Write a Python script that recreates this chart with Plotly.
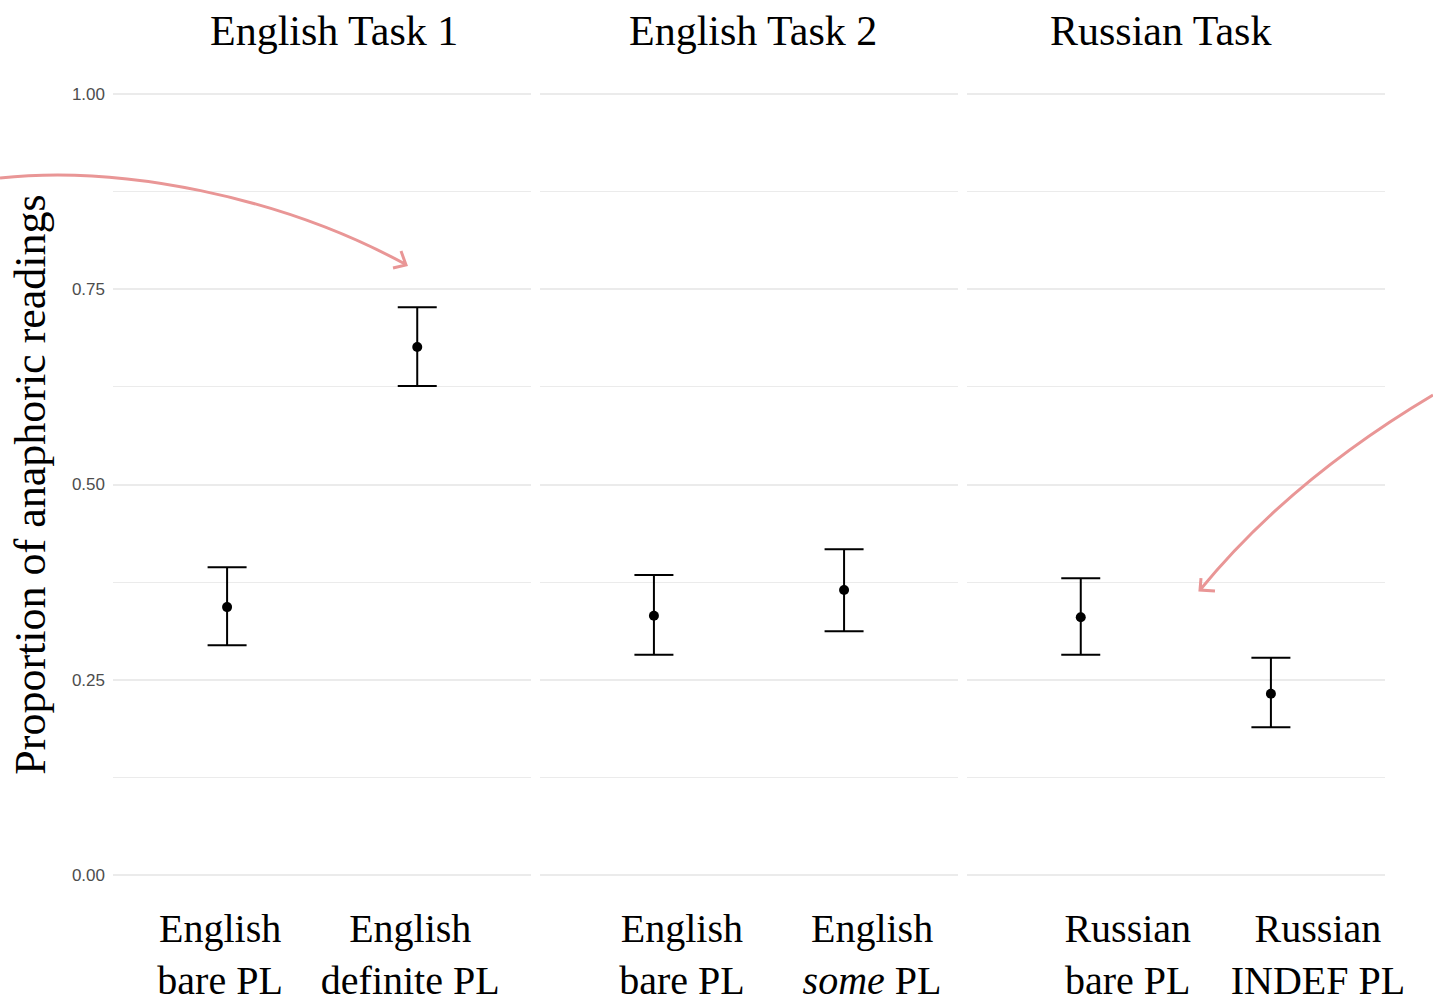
import plotly.graph_objects as go
from plotly.subplots import make_subplots

# Panel titles and category labels
panel_titles = ["English Task 1", "English Task 2", "Russian Task"]
categories = [
    ["English<br>bare PL", "English<br>definite PL"],
    ["English<br>bare PL", "English<br><i>some</i> PL"],
    ["Russian<br>bare PL", "Russian<br>INDEF PL"],
]

# Proportion of anaphoric readings with interval bounds
means = [[0.343, 0.676], [0.332, 0.365], [0.330, 0.232]]
lower = [[0.294, 0.626], [0.282, 0.312], [0.282, 0.189]]
upper = [[0.394, 0.727], [0.384, 0.417], [0.380, 0.278]]

y_ticks = [0.0, 0.25, 0.50, 0.75, 1.00]
y_tick_labels = ["0.00", "0.25", "0.50", "0.75", "1.00"]

W, H = 1433, 999
ML, MR, MT, MB = 113, 48, 55, 85
PW, PH = W - ML - MR, H - MT - MB

SERIF = "Liberation Serif, Times New Roman, serif"
SANS = "Liberation Sans, Arial, sans-serif"
GRID = "#EBEBEB"
PINK = "rgb(233,150,150)"

# horizontal nudges for the category labels and panel titles (px)
label_shift = [-7, 28, 47]
title_shift = [12, 4, -15]

fig = make_subplots(rows=1, cols=3, shared_yaxes=True,
                    horizontal_spacing=8.5 / PW,
                    subplot_titles=panel_titles)

for i in range(3):
    err_plus = [u - m for u, m in zip(upper[i], means[i])]
    err_minus = [m - l for m, l in zip(means[i], lower[i])]
    fig.add_trace(
        go.Scatter(
            x=categories[i], y=means[i], mode="markers",
            marker=dict(color="black", size=10),
            error_y=dict(type="data", symmetric=False, array=err_plus,
                         arrayminus=err_minus, color="black",
                         thickness=2, width=19.5),
            showlegend=False, hoverinfo="skip",
        ),
        row=1, col=i + 1,
    )
    fig.update_xaxes(
        type="category", range=[-0.6, 1.6], showgrid=False, zeroline=False,
        showline=False, ticks="", ticklabelstandoff=-13,
        ticklabelshift=label_shift[i],
        tickfont=dict(family=SERIF, size=40, color="black"),
        row=1, col=i + 1,
    )

fig.update_yaxes(
    range=[-0.05, 1.05], tickvals=y_ticks, ticktext=y_tick_labels,
    showgrid=True, gridcolor=GRID, gridwidth=2, zeroline=False, showline=False,
    ticks="", ticklabelstandoff=7,
    tickfont=dict(family=SANS, size=17, color="#4D4D4D"),
    minor=dict(dtick=0.125, tick0=0, showgrid=True, gridcolor=GRID, gridwidth=1),
)
fig.update_yaxes(
    title=dict(text="Proportion of anaphoric readings",
               font=dict(family=SERIF, size=44, color="black"), standoff=12),
    row=1, col=1,
)

for ann, dx in zip(fig.layout.annotations, title_shift):
    ann.font = dict(family=SERIF, size=42, color="black")
    ann.y = (H - MB - 31) / PH
    ann.yanchor = "middle"
    ann.xshift = dx


def to_paper(px, py):
    return (px - ML) / PW, (H - MB - py) / PH


def path(cmd):
    out = []
    for tok in cmd:
        if isinstance(tok, str):
            out.append(tok)
        else:
            x, y = to_paper(*tok)
            out.append(f"{x:.5f},{y:.5f}")
    return " ".join(out)


# Curved pointer arrows
arrows = [
    ["M", (0, 178), "C", (120, 165), (280, 196), (405, 264),
     "M", (393, 268), "L", (406, 265), "L", (401, 251)],
    ["M", (1433, 395), "Q", (1290, 480), (1200, 590),
     "M", (1215, 591), "L", (1200, 590), "L", (1201, 578)],
]
for a in arrows:
    fig.add_shape(type="path", path=path(a), xref="paper", yref="paper",
                  line=dict(color=PINK, width=3), layer="above")

fig.update_layout(
    width=W, height=H,
    margin=dict(l=ML, r=MR, t=MT, b=MB, autoexpand=False),
    plot_bgcolor="white", paper_bgcolor="white",
)

fig.write_html("out.html")
